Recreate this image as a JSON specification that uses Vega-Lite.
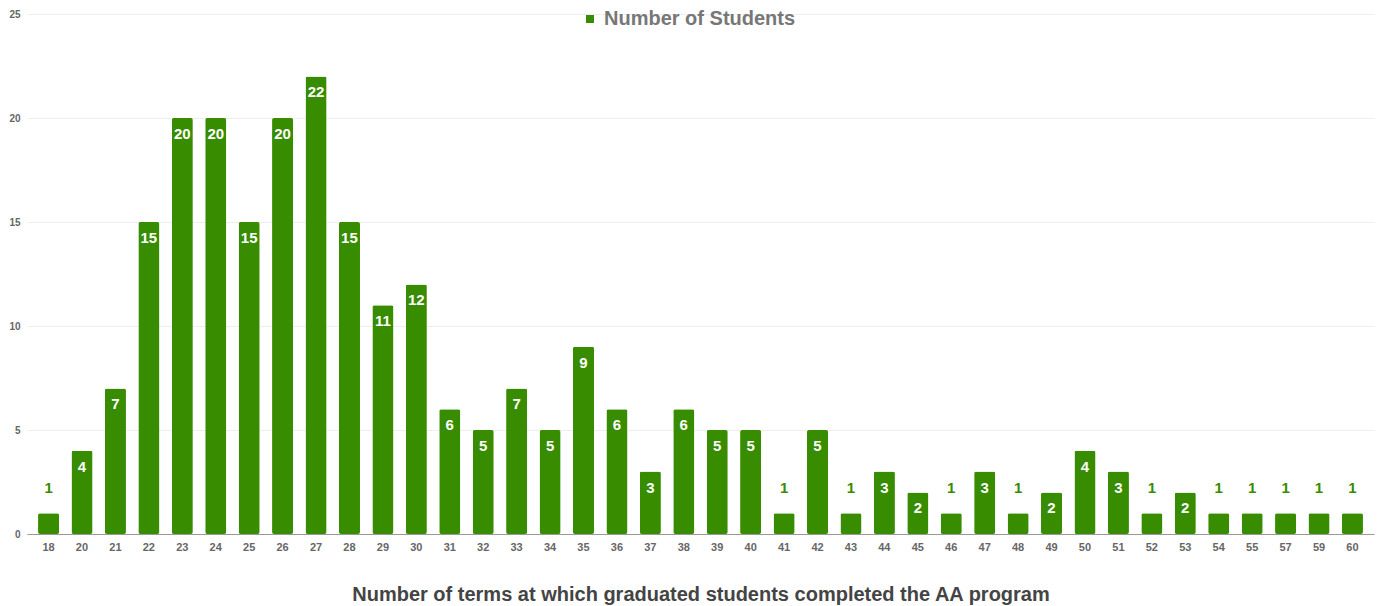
{
  "$schema": "https://vega.github.io/schema/vega-lite/v6.json",
  "autosize": {"type": "none"},
  "padding": {"left": 27, "top": 14, "right": 8, "bottom": 72},
  "width": 1347,
  "height": 520,
  "background": "white",
  "config": {"view": {"stroke": null}, "font": "Liberation Sans"},
  "data": {"values": [
    {"term": "18", "students": 1}, {"term": "20", "students": 4}, {"term": "21", "students": 7},
    {"term": "22", "students": 15}, {"term": "23", "students": 20}, {"term": "24", "students": 20},
    {"term": "25", "students": 15}, {"term": "26", "students": 20}, {"term": "27", "students": 22},
    {"term": "28", "students": 15}, {"term": "29", "students": 11}, {"term": "30", "students": 12},
    {"term": "31", "students": 6}, {"term": "32", "students": 5}, {"term": "33", "students": 7},
    {"term": "34", "students": 5}, {"term": "35", "students": 9}, {"term": "36", "students": 6},
    {"term": "37", "students": 3}, {"term": "38", "students": 6}, {"term": "39", "students": 5},
    {"term": "40", "students": 5}, {"term": "41", "students": 1}, {"term": "42", "students": 5},
    {"term": "43", "students": 1}, {"term": "44", "students": 3}, {"term": "45", "students": 2},
    {"term": "46", "students": 1}, {"term": "47", "students": 3}, {"term": "48", "students": 1},
    {"term": "49", "students": 2}, {"term": "50", "students": 4}, {"term": "51", "students": 3},
    {"term": "52", "students": 1}, {"term": "53", "students": 2}, {"term": "54", "students": 1},
    {"term": "55", "students": 1}, {"term": "57", "students": 1}, {"term": "59", "students": 1},
    {"term": "60", "students": 1}
  ]},
  "encoding": {
    "x": {
      "field": "term", "type": "ordinal", "sort": null,
      "scale": {"paddingInner": 0.37, "paddingOuter": 0.33},
      "axis": {
        "title": "Number of terms at which graduated students completed the AA program",
        "titleFontSize": 20, "titleFontWeight": "bold", "titleColor": "#444444",
        "titleY": 60, "titleBaseline": "middle",
        "labelAngle": 0, "labelFontSize": 11, "labelFontWeight": "bold", "labelColor": "#666666",
        "labelPadding": 7, "ticks": false, "domainColor": "#999999", "domainWidth": 1.2
      }
    },
    "y": {
      "field": "students", "type": "quantitative",
      "scale": {"domain": [0, 25], "nice": false},
      "axis": {
        "title": null, "values": [0, 5, 10, 15, 20, 25],
        "labelFontSize": 10, "labelFontWeight": "bold", "labelColor": "#666666",
        "labelPadding": 7, "ticks": false, "domain": false,
        "gridColor": "#eeeeee", "gridWidth": 1
      }
    }
  },
  "layer": [
    {
      "mark": {"type": "bar", "cornerRadius": 2},
      "encoding": {
        "color": {
          "datum": "Number of Students",
          "scale": {"range": ["#388c00"]},
          "legend": {
            "title": null, "orient": "none", "legendX": 553, "legendY": -5,
            "symbolType": "square", "symbolSize": 64, "symbolStrokeWidth": 0,
            "labelFontSize": 20, "labelFontWeight": "bold", "labelColor": "#777777",
            "labelOffset": 4, "labelLimit": 0
          }
        }
      }
    },
    {
      "transform": [{"filter": "datum.students >= 2"}],
      "mark": {"type": "text", "color": "white", "fontSize": 15, "fontWeight": "bold", "baseline": "alphabetic", "dy": 21},
      "encoding": {"text": {"field": "students", "type": "quantitative"}}
    },
    {
      "transform": [{"filter": "datum.students < 2"}],
      "mark": {"type": "text", "color": "#388c00", "fontSize": 15, "fontWeight": "bold", "baseline": "alphabetic", "dy": -20},
      "encoding": {"text": {"field": "students", "type": "quantitative"}}
    }
  ]
}
